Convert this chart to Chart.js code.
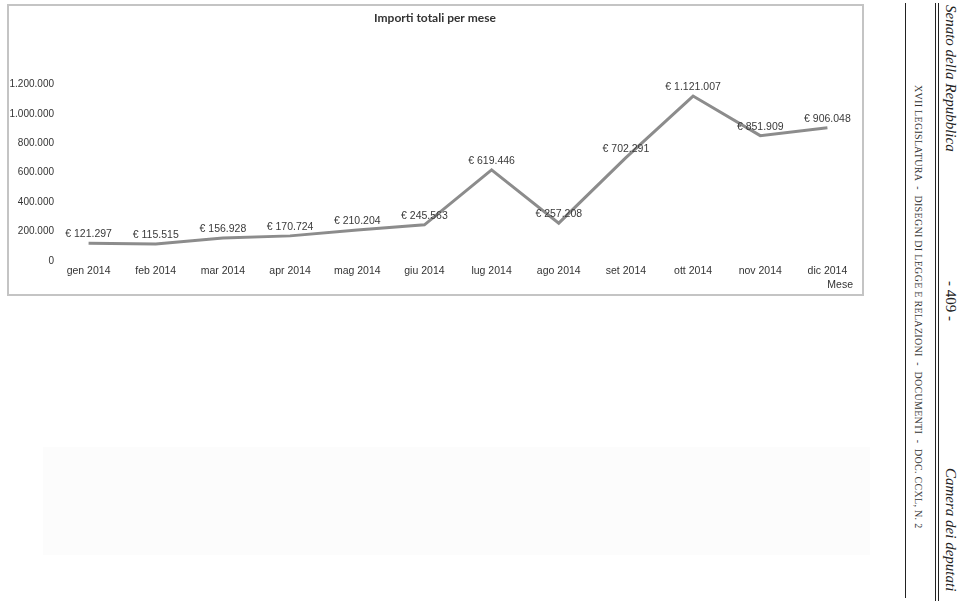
<!DOCTYPE html>
<html lang="it">
<head>
<meta charset="utf-8">
<title>Importi totali per mese</title>
<script src="https://cdn.jsdelivr.net/npm/chart.js@4"></script>
<style>
    html, body { margin: 0; padding: 0; background: #fff; }
    body { width: 960px; height: 601px; position: relative; overflow: hidden; }
    #frame {
        position: absolute; left: 7px; top: 4px; width: 857px; height: 292px;
        border: 2px solid #c4c4c4; box-sizing: border-box; background: #fff;
    }
    #frame canvas { display: block; }
    .smudge { position: absolute; left: 43px; top: 447px; width: 827px; height: 108px; background: #fcfcfc; }
    .vline { position: absolute; top: 3px; width: 1px; background: #222; }
    .rot { position: absolute; white-space: nowrap; transform-origin: 0 0; transform: rotate(90deg); color: #222; }
    .hdr { font-family: 'Liberation Serif', 'DejaVu Serif', serif; font-style: italic; font-size: 15px; line-height: 15px; }
    .sub { font-family: 'Liberation Serif', 'DejaVu Serif', serif; font-size: 10px; line-height: 10px; letter-spacing: 0.3px; color: #333; }
</style>
</head>
<body>
<div class="smudge"></div>
<div id="frame"><canvas id="importiChart" width="853" height="288"></canvas></div>

<!-- page header, rotated -->
<div class="vline" style="left:905px;height:595px;"></div>
<div class="vline" style="left:935px;height:598px;"></div>
<div class="vline" style="left:938px;height:598px;"></div>
<div class="rot sub" style="left:923px;top:85px;">XVII LEGISLATURA &nbsp;-&nbsp; DISEGNI DI LEGGE E RELAZIONI &nbsp;-&nbsp; DOCUMENTI &nbsp;-&nbsp; DOC. CCXL, N. 2</div>
<div class="rot hdr" style="left:958px;top:5px;">Senato della Repubblica</div>
<div class="rot hdr" style="left:958px;top:281px;font-style:normal;">- 409 -</div>
<div class="rot hdr" style="left:958px;top:468px;">Camera dei deputati</div>

<script>
// --- DATA ---
const MESI = ['gen 2014', 'feb 2014', 'mar 2014', 'apr 2014', 'mag 2014', 'giu 2014',
              'lug 2014', 'ago 2014', 'set 2014', 'ott 2014', 'nov 2014', 'dic 2014'];
const IMPORTI = [121297, 115515, 156928, 170724, 210204, 245563,
                 619446, 257208, 702291, 1121007, 851909, 906048];
const Y_MAX = 1200000;
const Y_STEP = 200000;
const X_TITLE = 'Mese';

const SANS = "'Liberation Sans', Arial, sans-serif";

// 1.200.000 style thousands separator
function fmt(n) {
    return String(Math.round(n)).replace(/\B(?=(\d{3})+(?!\d))/g, '.');
}

// draws "€ 121.297" above each point, plus the "Mese" axis caption
const valueLabels = {
    id: 'valueLabels',
    afterDatasetsDraw(chart) {
        const ctx = chart.ctx;
        const meta = chart.getDatasetMeta(0);
        ctx.save();
        ctx.font = '10.5px ' + SANS;
        ctx.fillStyle = '#3a3a3a';
        ctx.textAlign = 'center';
        ctx.textBaseline = 'middle';
        meta.data.forEach((pt, i) => {
            ctx.fillText('€ ' + fmt(IMPORTI[i]), pt.x, pt.y - 9);
        });
        // axis caption under the last category
        ctx.fillStyle = '#333';
        ctx.textAlign = 'right';
        ctx.fillText(X_TITLE, chart.chartArea.right - 8, chart.chartArea.bottom + 24);
        ctx.restore();
    }
};

const ctx = document.getElementById('importiChart').getContext('2d');
new Chart(ctx, {
    type: 'line',
    data: {
        labels: MESI,
        datasets: [{
            data: IMPORTI,
            borderColor: '#8c8c8c',
            borderWidth: 3,
            pointRadius: 0,
            tension: 0,
            fill: false
        }]
    },
    options: {
        responsive: false,
        animation: false,
        layout: { padding: { left: 0, right: 1, top: 0, bottom: 0 } },
        plugins: {
            legend: { display: false },
            tooltip: { enabled: false },
            title: {
                display: true,
                text: 'Importi totali per mese',
                color: '#333',
                font: { family: "Lato, 'Liberation Sans', sans-serif", size: 12, weight: 'bold' },
                padding: { top: 5, bottom: 59 }
            }
        },
        scales: {
            x: {
                offset: true,
                grid: { display: false, drawTicks: false },
                border: { display: false },
                ticks: { color: '#333', font: { family: SANS, size: 10.5 }, padding: 4, maxRotation: 0, autoSkip: false },
                afterFit(scale) { scale.height = 33; }
            },
            y: {
                min: 0,
                max: Y_MAX,
                grid: { display: false, drawTicks: false },
                border: { display: false },
                ticks: {
                    stepSize: Y_STEP, color: '#333', padding: 1,
                    font: { family: SANS, size: 10 },
                    callback: v => fmt(v)
                },
                afterFit(scale) { scale.width = 46; }
            }
        }
    },
    plugins: [valueLabels]
});
</script>
</body>
</html>
